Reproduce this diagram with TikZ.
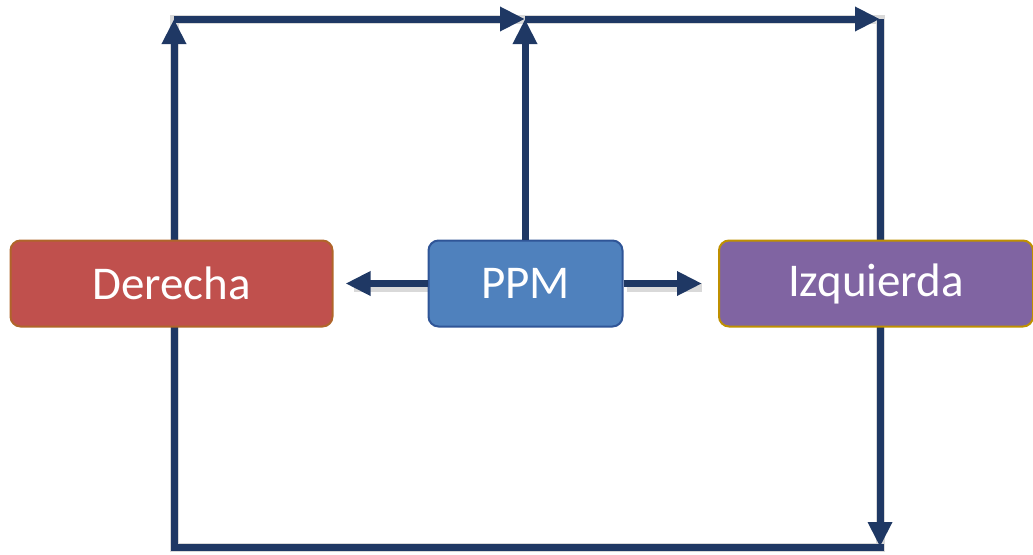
\documentclass[tikz,border=0pt]{standalone}
\usepackage{fontspec}
\setmainfont{Carlito}
\usetikzlibrary{arrows.meta}
\definecolor{navy}{HTML}{1F3864}
\definecolor{redfill}{HTML}{C0504D}
\definecolor{redline}{HTML}{B0652A}
\definecolor{bluefill}{HTML}{4F81BD}
\definecolor{blueline}{HTML}{2F5597}
\definecolor{purplefill}{HTML}{8064A2}
\definecolor{goldline}{HTML}{BF9000}
\tikzset{
  conn/.style={draw=navy, line width=7pt, -{Triangle[width=23pt,length=25pt]}},
  plain/.style={draw=navy, line width=7pt},
  shad/.style={draw=black, opacity=0.15, line width=9pt},
  box/.style={rounded corners=10pt, line width=2pt, minimum height=86pt, text=white,
    font=\fontsize{47}{56}\selectfont, inner sep=0pt},
}
\begin{document}
\begin{tikzpicture}[x=1pt,y=-1pt]
\useasboundingbox (0,0) rectangle (1033,554);
\coordinate (tl) at (174,19);
\coordinate (tm) at (525,19);
\coordinate (tr) at (880,19);
\coordinate (br) at (880,547);
\coordinate (bl) at (174,547);
% shadows
\begin{scope}[shift={(4,4)}]
\draw[shad] (bl) -- (tl) -- (tr) -- (br) -- cycle;
\draw[shad] (428,283) -- (350,283);
\draw[shad] (623,283) -- (698,283);
\end{scope}
% loop connectors
\draw[conn] (bl) -- (tl);
\draw[conn] (tl) -- (tm);
\draw[conn] (tm) -- (tr);
\draw[conn] (tr) -- (br);
\draw[plain, line cap=rect] (br) -- (bl);
% boxes
\node[box, fill=redfill, draw=redline, minimum width=322pt] (der) at (171.5,283.5) {Derecha};
\node[box, fill=bluefill, draw=blueline, minimum width=194pt] (ppm) at (525.5,283.5) {PPM};
\node[box, fill=purplefill, draw=goldline, minimum width=314pt] (izq) at (876,283.5) {Izquierda};
% PPM connectors
\draw[conn] (ppm.north -| tm) -- (tm);
\draw[conn] (ppm.west) -- ([xshift=12pt]der.east);
\draw[conn] (ppm.east) -- ([xshift=-16pt]izq.west);
\end{tikzpicture}
\end{document}
